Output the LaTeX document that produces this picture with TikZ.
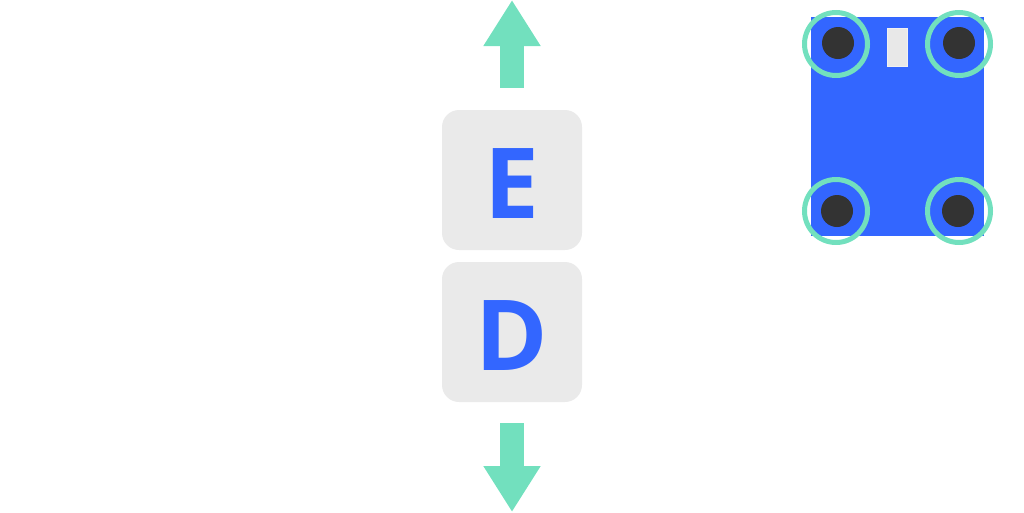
\documentclass[tikz,border=0pt]{standalone}
\usepackage{fontspec}
\setmainfont{Open Sans}
\usetikzlibrary{arrows.meta}
\definecolor{keygrey}{HTML}{EAEAEA}
\definecolor{keyblue}{HTML}{3366FF}
\definecolor{mint}{HTML}{72E0BE}
\definecolor{wheel}{HTML}{333333}
\definecolor{sensor}{HTML}{E8E8E8}
\tikzset{
    key/.style = {fill=keygrey, rounded corners=17pt, minimum width=140pt, minimum height=140pt, inner sep=0pt, text height=76pt, text depth=0pt, text=keyblue, font=\fontsize{98}{98}\selectfont\bfseries},
    move/.style = {mint, line width=24pt, -{Triangle[width=54pt, length=46pt]}},
    ring/.style = {draw=mint, line width=5pt}
}
\begin{document}
\begin{tikzpicture}[x = 1pt, y = -1pt]
        \useasboundingbox (0, 0) rectangle (1024, 512);
        \pgfmathsetmacro{\r}{31.5};
        % keys
        \node [key] (keyE) at (512, 180) {E};
        \node [key] (keyD) at (512, 332) {D};
        \coordinate (upTip) at (512, 0);
        \coordinate (downTip) at (512, 512);
        \draw [move] ([yshift=22pt]keyE.north) -- (upTip);
        \draw [move] ([yshift=-21pt]keyD.south) -- (downTip);
        % robot
        \fill [keyblue] (811, 17) rectangle (984, 236);
        \draw [fill=sensor, draw=sensor!60!white, line width=0.6pt] (887, 28) rectangle (907, 66);
        \foreach \x/\y in {838/43, 959/43, 837/211, 958/211}
            \fill [wheel] (\x, \y) circle (16);
        \foreach \x/\y in {836/44, 959/44, 836/211, 959/211}
            \draw [ring] (\x, \y) circle (\r);
    \end{tikzpicture}
\end{document}
